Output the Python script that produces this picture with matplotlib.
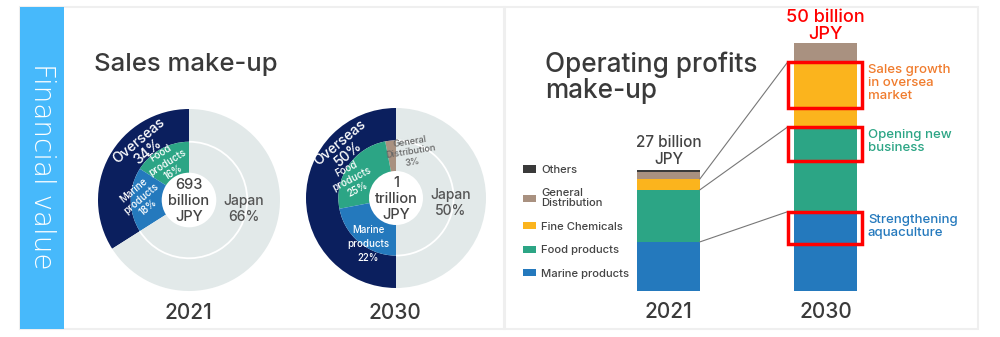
import matplotlib
matplotlib.use('Agg')
import matplotlib.pyplot as plt
from matplotlib.patches import Rectangle, Arc

plt.rcParams['font.family'] = ['Inter', 'DejaVu Sans']
plt.rcParams['font.weight'] = 500

# ---------------- data ----------------
sales_years = ['2021', '2030']
sales_totals = ['693\nbillion\nJPY', '1\ntrillion\nJPY']
overseas_share = [34, 50]
japan_share = [66, 50]
# inner ring (overseas split), counter-clockwise from the top
general_share = [0, 3]
food_share = [16, 25]
marine_share = [18, 22]

profit_years = ['2021', '2030']
profit_segments = ['Marine products', 'Food products', 'Fine Chemicals',
                   'General\nDistribution', 'Others']
marine_profit = [9.9, 15.7]
food_profit = [10.5, 17.4]
fine_profit = [2.2, 13.1]
general_profit = [1.4, 3.8]
others_profit = [0.4, 0.0]
profit_totals = ['27 billion\nJPY', '50 billion\nJPY']
# highlighted growth parts of 2030 (marine, food, fine chemicals)
highlight_growth = [6.6, 6.9, 9.3]
highlight_notes = ['Strengthening\naquaculture', 'Opening new\nbusiness',
                   'Sales growth\nin oversea\nmarket']

# ---------------- style ----------------
W, H = 1000, 337
NAVY = '#0b1f5e'
LIGHT = '#e2e9e9'
GREEN = '#2ca585'
BLUE = '#2479bd'
BROWN = '#a99180'
YELLOW = '#fbb41d'
DARK = '#3a3a3a'
TXT = '#444444'

fig = plt.figure(figsize=(W / 100, H / 100), dpi=100, facecolor='white')


def px_axes(x, y, w, h, z=1):
    ax = fig.add_axes([x / W, 1 - (y + h) / H, w / W, h / H], zorder=z)
    return ax


# background canvas
bg = px_axes(0, 0, W, H, z=0)
bg.set_xlim(0, W)
bg.set_ylim(H, 0)
bg.axis('off')
bg.add_patch(Rectangle((20, 7), 484, 322, facecolor='white', edgecolor='#efefef', lw=1.5))
bg.add_patch(Rectangle((505, 7), 473, 322, facecolor='white', edgecolor='#efefef', lw=1.5))
bg.add_patch(Rectangle((20, 7), 44, 322, facecolor='#47b9fb', edgecolor='none'))

# overlay for texts
ov = px_axes(0, 0, W, H, z=5)
ov.set_xlim(0, W)
ov.set_ylim(H, 0)
ov.axis('off')

ov.text(42, 166, 'Financial value', rotation=270, color='white', fontsize=20,
        fontweight='light', ha='center', va='center', family=['DejaVu Sans'])
ov.text(94, 71, 'Sales make-up', fontsize=18.5, color=DARK, ha='left', va='baseline')
ov.text(545, 52, 'Operating profits\nmake-up', fontsize=18.8, color=DARK,
        ha='left', va='top', linespacing=1.0)

# ---------------- donuts ----------------
donut_geo = [(189, 200, 91), (396, 198, 90)]
rm, rh = 0.64, 0.30
for i, (cx, cy, R) in enumerate(donut_geo):
    ax = px_axes(cx - R, cy - R, 2 * R, 2 * R, z=2)
    ax.pie([overseas_share[i], japan_share[i]], radius=1, startangle=90,
           counterclock=True, colors=[NAVY, LIGHT],
           wedgeprops=dict(width=1 - rm, linewidth=0))
    ax.pie([general_share[i], food_share[i], marine_share[i], japan_share[i]],
           radius=rm, startangle=90, counterclock=True,
           colors=[BROWN, GREEN, BLUE, LIGHT],
           wedgeprops=dict(width=rm - rh, linewidth=0))
    t1 = 90 + 3.6 * overseas_share[i] - 360
    ax.add_patch(Arc((0, 0), 2 * rm, 2 * rm, theta1=t1, theta2=90,
                     color='white', lw=1.3))
    ax.set_xlim(-1, 1)
    ax.set_ylim(-1, 1)
    ax.axis('off')
    ov.text(cx - 1, 313, sales_years[i], fontsize=15, color=DARK,
            ha='center', va='center')
    ov.text(cx, cy + 1, sales_totals[i], fontsize=10.5, color=TXT,
            ha='center', va='center', linespacing=1.15)

# 2021 labels
ov.text(143, 146, f'Overseas\n{overseas_share[0]}%', fontsize=10, color='white',
        rotation=40, ha='center', va='center', rotation_mode='anchor', linespacing=1.0)
ov.text(167, 163, f'Food\nproducts\n{food_share[0]}%', fontsize=7, color='white',
        rotation=32, ha='center', va='center', rotation_mode='anchor', linespacing=1.15)
ov.text(141, 199, f'Marine\nproducts\n{marine_share[0]}%', fontsize=7, color='white',
        rotation=40, ha='center', va='center', rotation_mode='anchor', linespacing=1.15)
ov.text(244, 209, f'Japan\n{japan_share[0]}%', fontsize=10, color='#555555',
        ha='center', va='center', linespacing=1.14)
# 2030 labels
ov.text(344, 148, f'Overseas\n{overseas_share[1]}%', fontsize=10, color='white',
        rotation=40, ha='center', va='center', rotation_mode='anchor', linespacing=1.0)
ov.text(411, 152, f'General\nDistribution\n{general_share[1]}%', fontsize=6.6, color='#666666',
        rotation=9, ha='center', va='center', rotation_mode='anchor', linespacing=1.18)
ov.text(352, 179, f'Food\nproducts\n{food_share[1]}%', fontsize=7, color='white',
        rotation=27, ha='center', va='center', rotation_mode='anchor', linespacing=1.2)
ov.text(368, 244, f'Marine\nproducts\n{marine_share[1]}%', fontsize=7, color='white',
        ha='center', va='center', linespacing=1.5)
ov.text(451, 203, f'Japan\n{japan_share[1]}%', fontsize=10, color='#555555',
        ha='center', va='center', linespacing=1.12)

# ---------------- stacked bars ----------------
PXU = 4.96          # pixels per billion JPY
y_bottom = 291
ymax = 55
x0px, unit = 668.5, 157.0
ax_left, ax_right = 600, 900
bax = px_axes(ax_left, y_bottom - ymax * PXU, ax_right - ax_left, ymax * PXU, z=2)
bax.set_xlim((ax_left - x0px) / unit, (ax_right - x0px) / unit)
bax.set_ylim(0, ymax)
for s in bax.spines.values():
    s.set_visible(False)
bax.patch.set_alpha(0)
bax.set_yticks([])
xs = [0, 1]
bw = 0.40
series = [marine_profit, food_profit, fine_profit, general_profit, others_profit]
colors = [BLUE, GREEN, YELLOW, BROWN, DARK]
bottoms = [0.0, 0.0]
tops = []
containers = []
for name, vals, c in zip(profit_segments, series, colors):
    cont = bax.bar(xs, vals, bottom=bottoms, width=bw, color=c, label=name, linewidth=0)
    containers.append(cont)
    bottoms = [b + v for b, v in zip(bottoms, vals)]
    tops.append(list(bottoms))
bax.set_xticks(xs)
bax.set_xticklabels(profit_years, fontsize=15, color=DARK)
bax.tick_params(axis='x', length=0, pad=8)

tot_colors = [TXT, 'red']
tot_sizes = [11, 13]
tot_pads = [0.7, 0.1]
tot_ls = [1.1, 1.0]
for i in range(2):
    bax.text(xs[i], bottoms[i] + tot_pads[i], profit_totals[i], ha='center', va='bottom',
             fontsize=tot_sizes[i], color=tot_colors[i], linespacing=tot_ls[i])

note_colors = [BLUE, GREEN, '#f07b2c']
box_l = 1 - bw / 2 - 0.04
box_r = 1 + bw / 2 + 0.035
for k in range(3):
    top = tops[k][1] + (0.3 if k == 0 else 0.0)
    bot = top - highlight_growth[k]
    bax.add_patch(Rectangle((box_l, bot), box_r - box_l, top - bot, fill=False,
                            edgecolor='red', lw=2.5, clip_on=False, zorder=4))
    bax.plot([xs[0] + bw / 2, box_l], [tops[k][0], top], color='#777777', lw=0.8,
             clip_on=False, zorder=3)
    bax.text(1.27, top - 0.5, highlight_notes[k], color=note_colors[k], fontsize=9.5,
             ha='left', va='top', linespacing=1.12)

handles = containers[::-1]
labels = profit_segments[::-1]
leg = fig.legend(handles, labels, loc='upper left', bbox_to_anchor=(523 / W, 1 - 165 / H),
                 frameon=False, fontsize=8.1, labelcolor=TXT, handlelength=1.15,
                 handleheight=0.6, handletextpad=0.45, labelspacing=1.2, borderpad=0,
                 borderaxespad=0)
leg.get_texts()[1].set_linespacing(0.95)

fig.savefig('out.png', dpi=100, facecolor='white')
